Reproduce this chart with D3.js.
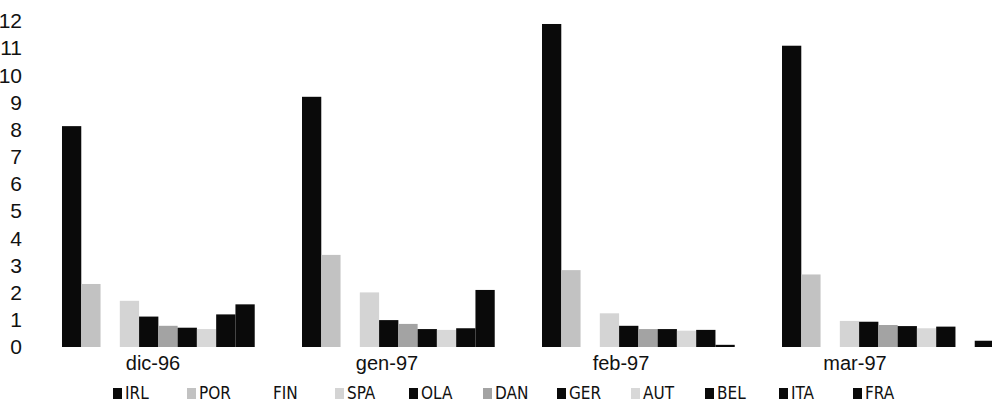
<!DOCTYPE html>
<html>
<head>
<meta charset="utf-8">
<script src="https://cdn.jsdelivr.net/npm/d3@7"></script>
<style>
  body { margin: 0; background: #fff; }
  .tick text { font-family: "Liberation Sans", Arial, sans-serif; fill: #111; }
  .legend text { font-family: "Liberation Sans Narrow", "DejaVu Sans Condensed", sans-serif; font-size: 17px; fill: #111; }
</style>
</head>
<body>
<script>
// months on the category axis
var months = ["dic-96", "gen-97", "feb-97", "mar-97"];
// countries, in legend / bar order
var countries = ["IRL", "POR", "FIN", "SPA", "OLA", "DAN", "GER", "AUT", "BEL", "ITA", "FRA"];
var yTicks = [0, 1, 2, 3, 4, 5, 6, 7, 8, 9, 10, 11, 12];

// one value per month
var IRL = [8.13, 9.21, 11.89, 11.09];
var POR = [2.32, 3.39, 2.83, 2.67];
var FIN = [0, 0, 0, 0];
var SPA = [1.70, 2.01, 1.24, 0.96];
var OLA = [1.12, 0.99, 0.78, 0.93];
var DAN = [0.78, 0.85, 0.66, 0.81];
var GER = [0.71, 0.66, 0.66, 0.77];
var AUT = [0.66, 0.63, 0.60, 0.69];
var BEL = [1.20, 0.69, 0.63, 0.75];
var ITA = [1.57, 2.10, 0.08, 0];
var FRA = [0, 0, 0, 0.23];

var seriesValues = [IRL, POR, FIN, SPA, OLA, DAN, GER, AUT, BEL, ITA, FRA];
var colors = ["#0a0a0a", "#c2c2c2", "#ffffff", "#d4d4d4", "#0a0a0a", "#a3a3a3",
              "#0a0a0a", "#d8d8d8", "#0a0a0a", "#0a0a0a", "#0a0a0a"];

var width = 992, height = 408;

var svg = d3.select("body").append("svg")
  .attr("width", width)
  .attr("height", height);

// month bands (the last one runs off the right edge, as in the scan)
var x0 = d3.scaleBand()
  .domain(months)
  .range([48, 1008])
  .paddingInner(0.1167)
  .paddingOuter(0.0583);

// bars inside a month
var x1 = d3.scaleBand()
  .domain(countries)
  .range([0, x0.bandwidth()]);

// the month labels sit a bit left of the bar groups in the original
var xLabel = d3.scaleBand()
  .domain(months)
  .range([36, 972]);

var y = d3.scaleLinear()
  .domain([0, 12])
  .range([347, 21]);

// y axis: labels only
var yAxis = svg.append("g")
  .attr("transform", "translate(22,0)")
  .call(d3.axisLeft(y).tickValues(yTicks).tickSize(0).tickPadding(0));
yAxis.select(".domain").remove();
yAxis.selectAll("text")
  .style("font-family", "'Liberation Sans Narrow', 'Liberation Sans', sans-serif")
  .style("font-size", "21px");

// x axis: labels only
var xAxis = svg.append("g")
  .attr("transform", "translate(0,352)")
  .call(d3.axisBottom(xLabel).tickSize(0).tickPadding(4));
xAxis.select(".domain").remove();
xAxis.selectAll("text").style("font-size", "20px");

// bars
var groups = svg.append("g").selectAll("g")
  .data(months)
  .join("g")
  .attr("transform", function(d) { return "translate(" + x0(d) + ",0)"; });

groups.selectAll("rect")
  .data(function(m, i) {
    return countries.map(function(c, j) {
      return { country: c, value: seriesValues[j][i], color: colors[j] };
    });
  })
  .join("rect")
  .attr("x", function(d) { return x1(d.country); })
  .attr("y", function(d) { return y(d.value); })
  .attr("width", x1.bandwidth())
  .attr("height", function(d) { return y(0) - y(d.value); })
  .attr("fill", function(d) { return d.color; });

// legend along the bottom
var legendX = d3.scalePoint()
  .domain(countries)
  .range([113, 853]);

var legend = svg.append("g")
  .attr("class", "legend")
  .selectAll("g")
  .data(countries)
  .join("g")
  .attr("transform", function(d) { return "translate(" + legendX(d) + ",388)"; });

legend.append("rect")
  .attr("width", 9)
  .attr("height", 11)
  .attr("fill", function(d, i) { return colors[i]; });

legend.append("text")
  .attr("x", 12)
  .attr("y", 11)
  .text(function(d) { return d; });
</script>
</body>
</html>
